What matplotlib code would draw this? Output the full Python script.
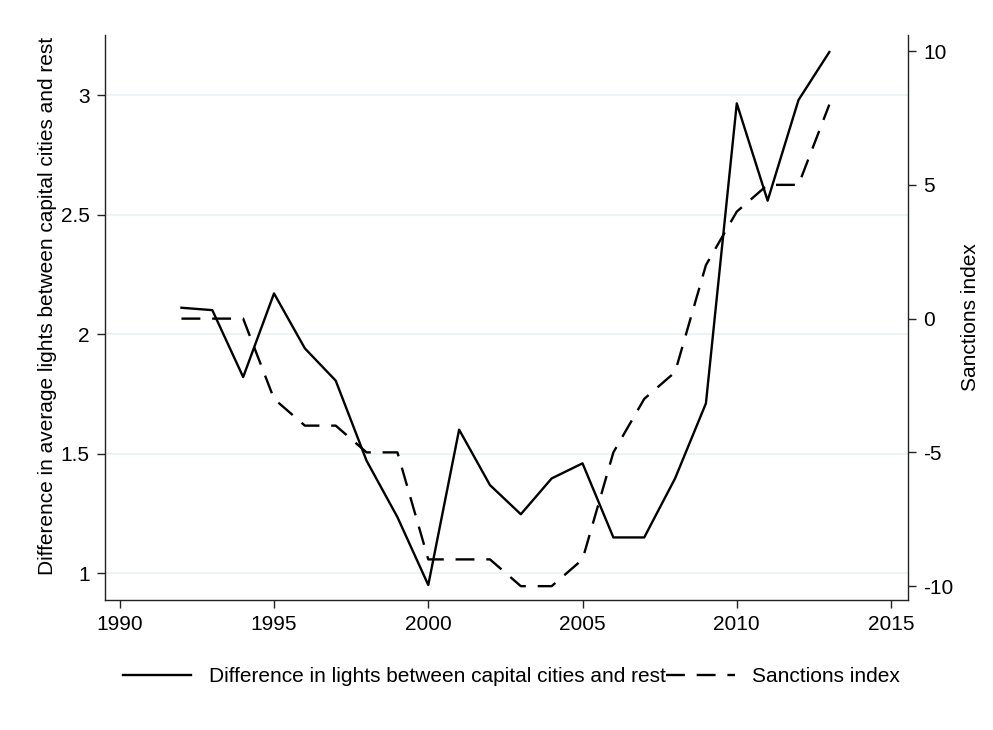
import matplotlib
matplotlib.use('Agg')
import matplotlib.pyplot as plt

# Yearly series
years = list(range(1992, 2014))
lights_diff = [2.11, 2.10, 1.82, 2.17, 1.94, 1.805, 1.47, 1.234, 0.95, 1.60, 1.368,
               1.246, 1.396, 1.459, 1.149, 1.149, 1.396, 1.71, 2.965, 2.558, 2.979, 3.18]
sanctions = [0, 0, 0, -3, -4, -4, -5, -5, -9, -9, -9, -10, -10, -9, -5, -3, -2, 2, 4, 5, 5, 8]

x_ticks = [1990, 1995, 2000, 2005, 2010, 2015]
left_ticks = [1, 1.5, 2, 2.5, 3]
left_labels = ['1', '1.5', '2', '2.5', '3']
right_ticks = [-10, -5, 0, 5, 10]

plt.rcParams['font.family'] = ['Liberation Sans', 'DejaVu Sans']
plt.rcParams['axes.unicode_minus'] = False

fig = plt.figure(figsize=(9.93, 7.3), dpi=100)
ax = fig.add_axes([0.1057, 0.178, 0.8087, 0.774])
ax2 = ax.twinx()

grid_col = '#eaf2f3'
for t in left_ticks:
    ax.axhline(t, color=grid_col, lw=1.3, zorder=0)

l1, = ax.plot(years, lights_diff, color='black', lw=1.7, zorder=3,
              label='Difference in lights between capital cities and rest')
l2, = ax2.plot(years, sanctions, color='black', lw=1.7, linestyle=(0, (8, 5)),
               zorder=3, label='Sanctions index')

ax.set_xlim(1989.52, 2015.55)
ax.set_ylim(0.887, 3.251)
ax2.set_ylim(-10.52, 10.6)

ax.set_xticks(x_ticks)
ax.set_yticks(left_ticks)
ax.set_yticklabels(left_labels)
ax2.set_yticks(right_ticks)

for a in (ax, ax2):
    a.spines['top'].set_visible(False)
    for s in a.spines.values():
        s.set_linewidth(1.0)
        s.set_color('#222222')
    a.tick_params(direction='out', length=6, width=1.0, color='#222222',
                  labelsize=15, pad=5)
ax.spines['right'].set_visible(False)
ax2.spines['left'].set_visible(False)
ax2.spines['bottom'].set_visible(False)

ax.set_ylabel('Difference in average lights between capital cities and rest', fontsize=15)
ax.yaxis.set_label_coords(-0.06, 0.52)
ax2.set_ylabel('Sanctions index', fontsize=15)
ax2.yaxis.set_label_coords(1.066, 0.5)

fig.legend([l1, l2], [l1.get_label(), l2.get_label()], loc='center',
           bbox_to_anchor=(0.515, 0.073), ncol=2, frameon=False, fontsize=15,
           handlelength=3.3, handletextpad=0.85, columnspacing=0.0)

fig.savefig('out.png', dpi=100)
